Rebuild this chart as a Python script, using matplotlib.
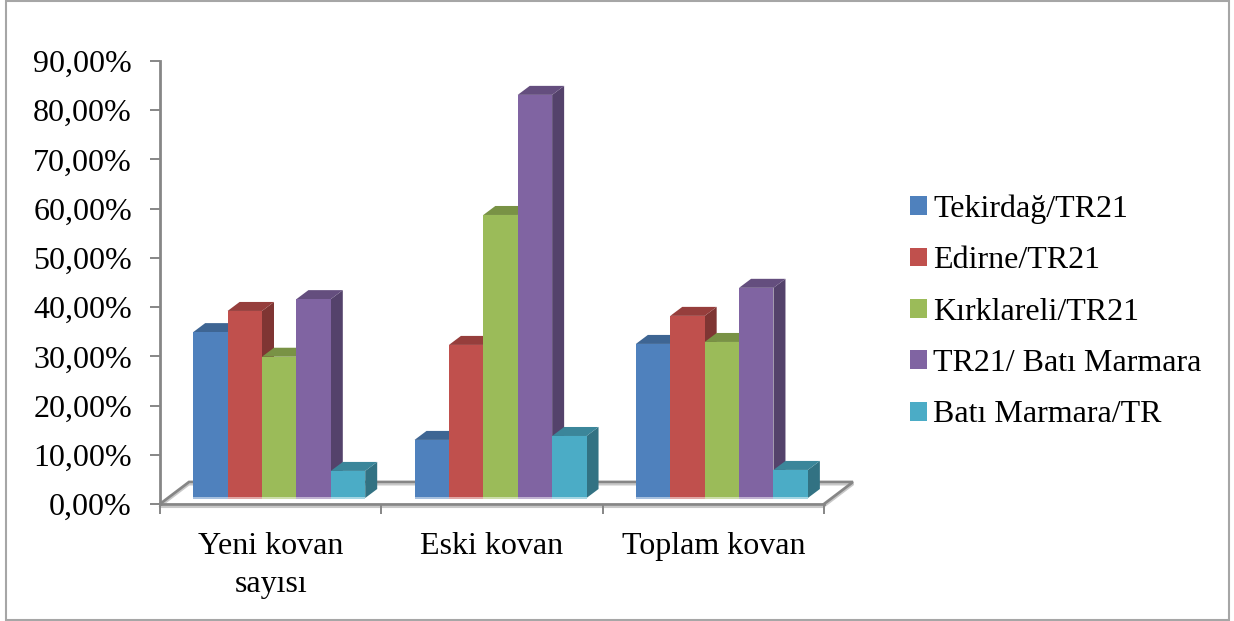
#!/usr/bin/env python3
"""Pseudo-3D clustered bars: hive shares by province."""

import matplotlib
matplotlib.use("Agg")
import matplotlib.colors as mcolors
import matplotlib.pyplot as plt
from matplotlib.patches import Patch, Rectangle, Polygon
import numpy as np

plt.rcParams["font.family"] = ["Liberation Serif", "DejaVu Serif"]

W, H = 1234, 621

categories = ["Yeni kovan\nsayısı", "Eski kovan", "Toplam kovan"]
series = ["Tekirdağ/TR21", "Edirne/TR21", "Kırklareli/TR21",
          "TR21/ Batı Marmara", "Batı Marmara/TR"]
tekirdag = [33.7, 11.8, 31.3]
edirne = [38.0, 31.1, 37.0]
kirklareli = [28.7, 57.5, 31.7]
tr21 = [40.4, 81.9, 42.7]
bati = [5.5, 12.6, 5.7]
yticks = [0, 10, 20, 30, 40, 50, 60, 70, 80, 90]
colors = ["#4F81BD", "#C0504D", "#9BBB59", "#8064A2", "#4BACC6"]

AXIS = "#868686"
SHADOW = "#C8C8C8"


def shade(color, k):
    return tuple(c * k for c in mcolors.to_rgb(color))


def tint(color, k):
    return tuple(c + (1 - c) * k for c in mcolors.to_rgb(color))


fig = plt.figure(figsize=(W / 100, H / 100), dpi=100)
fig.add_artist(Rectangle((6 / W, 1 - 620 / H), (1228.5 - 6) / W, (620 - 0.5) / H,
                         transform=fig.transFigure, fill=False,
                         edgecolor="#A6A6A6", linewidth=1.5))

ax = fig.add_axes([160 / W, 1 - 504 / H, (824 - 160) / W, (504 - 61) / H])
ax.set_xlim(0, 3)
ax.set_ylim(0, 90)
ax.patch.set_visible(False)

# scale helpers for the fake depth
px_x = 3 / (824 - 160)
px_y = 90 / (504 - 61)
floor_dx, floor_dy = 29 * px_x, 22 * px_y
depth_x, depth_y = 12 * px_x, 9 * px_y
base = 6 * px_y
bar_w = 34.4 * px_x
start = 33.2 * px_x

# floor
fx = [0, floor_dx, 3 + floor_dx, 3]
fy = [0, floor_dy, floor_dy, 0]
ax.plot(fx, np.array(fy) - 0.5, color=SHADOW, lw=1.5, clip_on=False, zorder=1)
ax.plot([0, 3], [-0.6, -0.6], color=SHADOW, lw=1.5, clip_on=False, zorder=1)
ax.plot(fx, fy, color=AXIS, lw=2.0, clip_on=False, zorder=2,
        solid_joinstyle="miter")

values = [tekirdag, edirne, kirklareli, tr21, bati]
z = 5
for c in range(len(categories)):
    for s, vals in enumerate(values):
        x0 = c + start + s * bar_w
        x1 = x0 + bar_w
        top = vals[c] + base
        col = colors[s]
        ax.add_patch(Polygon([(x1, base), (x1 + depth_x, base + depth_y),
                              (x1 + depth_x, top + depth_y), (x1, top)],
                             facecolor=shade(col, 0.66), edgecolor="none",
                             clip_on=False, zorder=z))
        ax.add_patch(Polygon([(x0, top), (x0 + depth_x, top + depth_y),
                              (x1 + depth_x, top + depth_y), (x1, top)],
                             facecolor=shade(col, 0.78), edgecolor="none",
                             clip_on=False, zorder=z))
        ax.bar(x0, vals[c], width=bar_w, bottom=base, align="edge", color=col,
               linewidth=0, clip_on=False, zorder=z + 1)
        ax.bar(x0, 2 * px_y, width=bar_w, bottom=base - 1 * px_y, align="edge",
               color=tint(col, 0.5), linewidth=0, clip_on=False, zorder=z + 1)
        z += 2

for name in ["top", "right"]:
    ax.spines[name].set_visible(False)
for name in ["left", "bottom"]:
    ax.spines[name].set_color(AXIS)
    ax.spines[name].set_linewidth(2.0)
    ax.spines[name].set_zorder(3)

ax.set_yticks(yticks)
ax.set_yticklabels([f"{v:.2f}".replace(".", ",") + "%" for v in yticks])
ax.tick_params(axis="y", length=7.2, width=1.4, color=AXIS, labelsize=23,
               pad=13, labelcolor="black")

ax.set_xticks([0.5, 1.5, 2.5])
ax.set_xticklabels(categories, linespacing=1.4)
ax.set_xticks([0, 1, 2, 3], minor=True)
ax.tick_params(axis="x", which="major", length=0, labelsize=23, pad=20.5)
ax.tick_params(axis="x", which="minor", length=7.2, width=1.4, color=AXIS)

handles = [Patch(facecolor=col, edgecolor="none") for col in colors]
fig.legend(handles, series, loc="center left",
           bbox_to_anchor=(910 / W, 1 - 312 / H), frameon=False, fontsize=23,
           handlelength=0.53, handleheight=0.53, handletextpad=0.2,
           labelspacing=0.70, borderpad=0, borderaxespad=0)

fig.savefig("out.png", dpi=100)
